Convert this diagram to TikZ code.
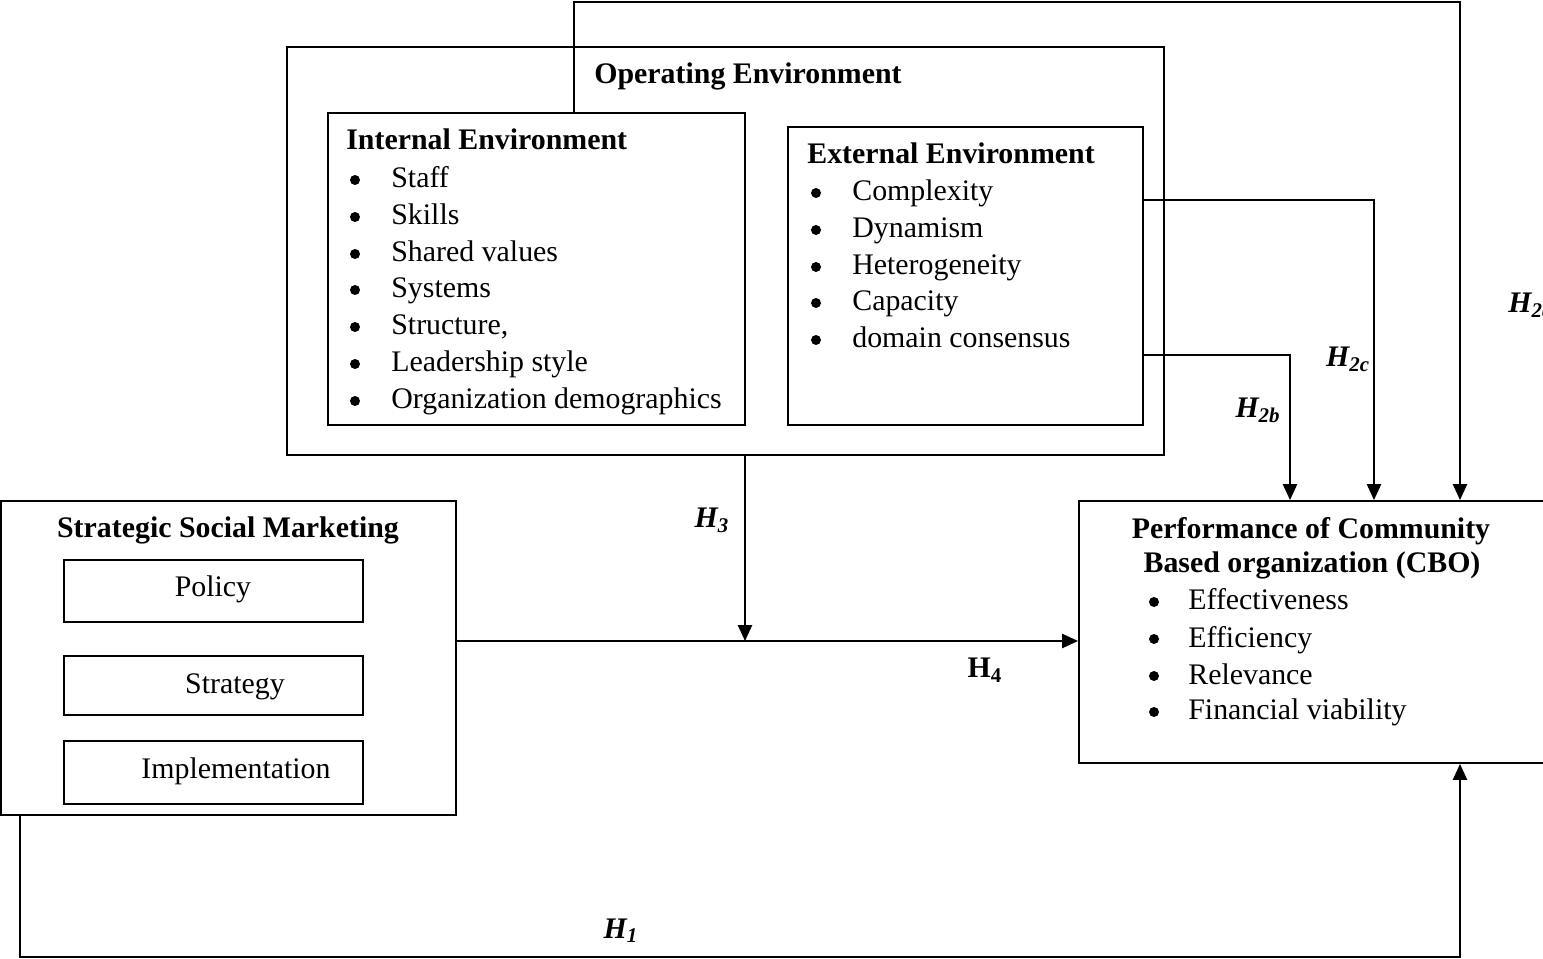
\documentclass[tikz,border=0pt]{standalone}
\usepackage{fontspec}
\setmainfont{Liberation Serif}
\usetikzlibrary{arrows.meta,fit}
\begin{document}
\begin{tikzpicture}[x=0.02cm,y=-0.02cm,
  every node/.style={font=\fontsize{17}{21}\selectfont, inner sep=0pt},
  box/.style={draw, line width=1.1pt, inner sep=0pt},
  wire/.style={line width=1.1pt},
  arr/.style={wire, -{Triangle[width=8pt,length=9pt]}},
  ttl/.style={font=\fontsize{17}{21}\selectfont\bfseries, anchor=base},
  itm/.style={anchor=base west},
  dot/.style={circle, fill, minimum size=0.2cm, inner sep=0pt},
  hyp/.style={font=\fontsize{17}{21}\selectfont\bfseries\itshape, anchor=base}]
\useasboundingbox (0,0) rectangle (1543,959);
\clip (0,0) rectangle (1543,959);

% boxes
\node[box, fit={(287,47) (1164,455)}] (oe) {};
\node[box, fit={(328,113) (745,425)}] (int) {};
\node[box, fit={(788,127) (1143,425)}] (ext) {};
\node[box, fit={(1,501) (456,815)}] (ssm) {};
\node[box, fit={(64,560) (363,622)}] (pol) {};
\node[box, fit={(64,656) (363,715)}] (stg) {};
\node[box, fit={(64,741) (363,804)}] (imp) {};
\node[box, fit={(1079,501) (1600,763)}] (cbo) {};

% titles
\node[ttl] (oet) at (748,84) {Operating Environment};
\node[ttl, anchor=base west] (intt) at (346,150) {Internal Environment};
\node[ttl, anchor=base west] (extt) at (807,164) {External Environment};
\node[ttl] (ssmt) at (228,538) {Strategic Social Marketing};
\node[ttl] (cbot1) at (1311,539) {Performance of Community};
\node[ttl] (cbot2) at (1312,573) {Based organization (CBO)};

% inner boxes of strategic social marketing
\node[anchor=base] (polt) at (213,597) {Policy};
\node[anchor=base] (stgt) at (235,693) {Strategy};
\node[anchor=base] (impt) at (236,778) {Implementation};

% bullet lists
\foreach \y/\t in {188/Staff, 225/Skills, 262/Shared values, 298/Systems,
                   335/{Structure,}, 372/Leadership style, 409/Organization demographics} {
  \node[dot] (ib\y) at (355,\y-8) {};
  \node[itm] (it\y) at (391,\y) {\t};
}
\foreach \y/\t in {201/Complexity, 238/Dynamism, 275/Heterogeneity, 311/Capacity,
                   348/domain consensus} {
  \node[dot] (eb\y) at (816,\y-8) {};
  \node[itm] (et\y) at (852,\y) {\t};
}
\foreach \y/\t in {610/Effectiveness, 647/Efficiency, 684/Relevance, 720/Financial viability} {
  \node[dot] (cb\y) at (1154,\y-8) {};
  \node[itm] (ct\y) at (1188,\y) {\t};
}

% guide coordinates for connector routes
\coordinate (x574) at (574,0);
\coordinate (topc) at (1460,2);
\coordinate (c2c) at (1374,200);
\coordinate (c2b) at (1290,355);
\coordinate (x745) at (745,0);
\coordinate (y641) at (0,641);
\coordinate (x20) at (20,0);
\coordinate (botc) at (1460,957);

% connectors
\draw[arr] (int.north -| x574) |- (topc) -- (cbo.north -| topc);
\draw[arr] (ext.east |- c2c) -| (cbo.north -| c2c);
\draw[arr] (ext.east |- c2b) -| (cbo.north -| c2b);
\draw[arr] (ssm.east |- y641) -- (cbo.west |- y641);
\coordinate (h3end) at (x745 |- y641);
\draw[arr] (oe.south -| x745) -- (h3end);
\draw[arr] (ssm.south -| x20) |- (botc) -- (cbo.south -| botc);

% hypothesis labels
\node[hyp, anchor=base west] (h2a) at (1508,313) {H\textsubscript{2a}};
\node[hyp] (h2c) at (1348,367) {H\textsubscript{2c}};
\node[hyp] (h2b) at (1258,418) {H\textsubscript{2b}};
\node[hyp] (h3) at (712,528) {H\textsubscript{3}};
\node[ttl] (h4) at (985,678) {H\textsubscript{4}};
\node[hyp] (h1) at (621,938) {H\textsubscript{1}};
\end{tikzpicture}
\end{document}
